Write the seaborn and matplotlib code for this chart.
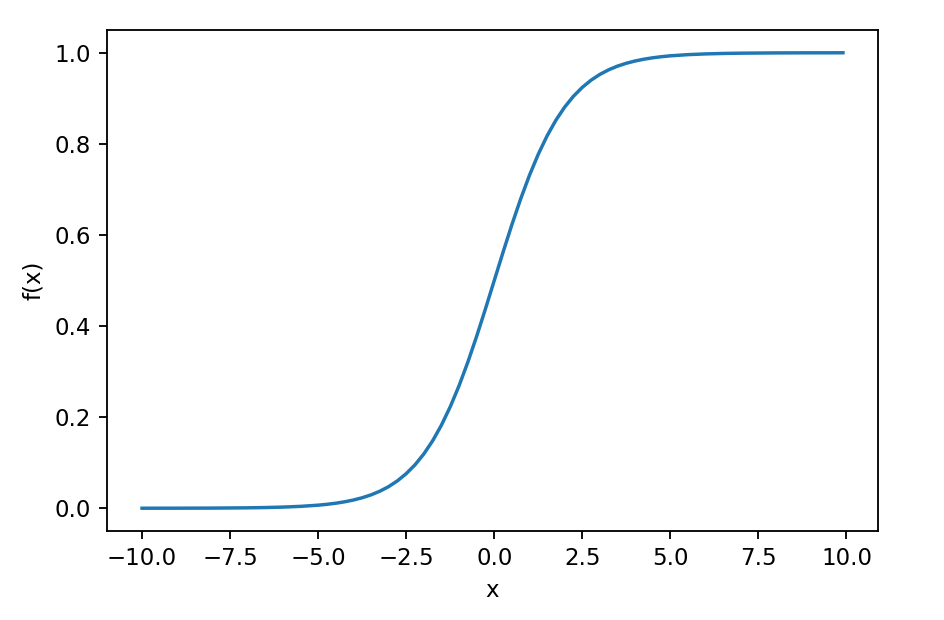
import pandas as pd
import seaborn as sns
import matplotlib
matplotlib.use("Agg")
import matplotlib.pyplot as plt

# values
x_vals = [-10, -9.5, -9, -8.5, -8, -7.5, -7, -6.5, -6, -5.5,
          -5, -4.75, -4.5, -4.25, -4, -3.75, -3.5, -3.25, -3, -2.75,
          -2.5, -2.25, -2, -1.75, -1.5, -1.25, -1, -0.75, -0.5, -0.25,
          0, 0.25, 0.5, 0.75, 1, 1.25, 1.5, 1.75, 2, 2.25,
          2.5, 2.75, 3, 3.25, 3.5, 3.75, 4, 4.25, 4.5, 4.75,
          5, 5.5, 6, 6.5, 7, 7.5, 8, 8.5, 9, 9.5, 9.9]
fx_vals = [0.0000, 0.0001, 0.0001, 0.0002, 0.0003, 0.0006, 0.0009, 0.0015, 0.0025, 0.0041,
           0.0067, 0.0086, 0.0110, 0.0141, 0.0180, 0.0230, 0.0293, 0.0373, 0.0474, 0.0601,
           0.0759, 0.0953, 0.1192, 0.1480, 0.1824, 0.2227, 0.2689, 0.3208, 0.3775, 0.4378,
           0.5000, 0.5622, 0.6225, 0.6792, 0.7311, 0.7773, 0.8176, 0.8520, 0.8808, 0.9047,
           0.9241, 0.9399, 0.9526, 0.9627, 0.9707, 0.9770, 0.9820, 0.9859, 0.9890, 0.9914,
           0.9933, 0.9959, 0.9975, 0.9985, 0.9991, 0.9994, 0.9997, 0.9998, 0.9999, 0.9999, 1.0000]

df = pd.DataFrame({"x": x_vals, "f(x)": fx_vals})

fig = plt.figure(figsize=(944 / 165, 620 / 165), dpi=165)
ax = fig.add_axes([107 / 944, 89 / 620, 771 / 944, 501 / 620])

sns.lineplot(data=df, x="x", y="f(x)", ax=ax, color="C0")

ax.set_xticks([-10, -7.5, -5, -2.5, 0, 2.5, 5, 7.5, 10])
ax.set_yticks([0.0, 0.2, 0.4, 0.6, 0.8, 1.0])

fig.savefig("out.png", dpi=165)
